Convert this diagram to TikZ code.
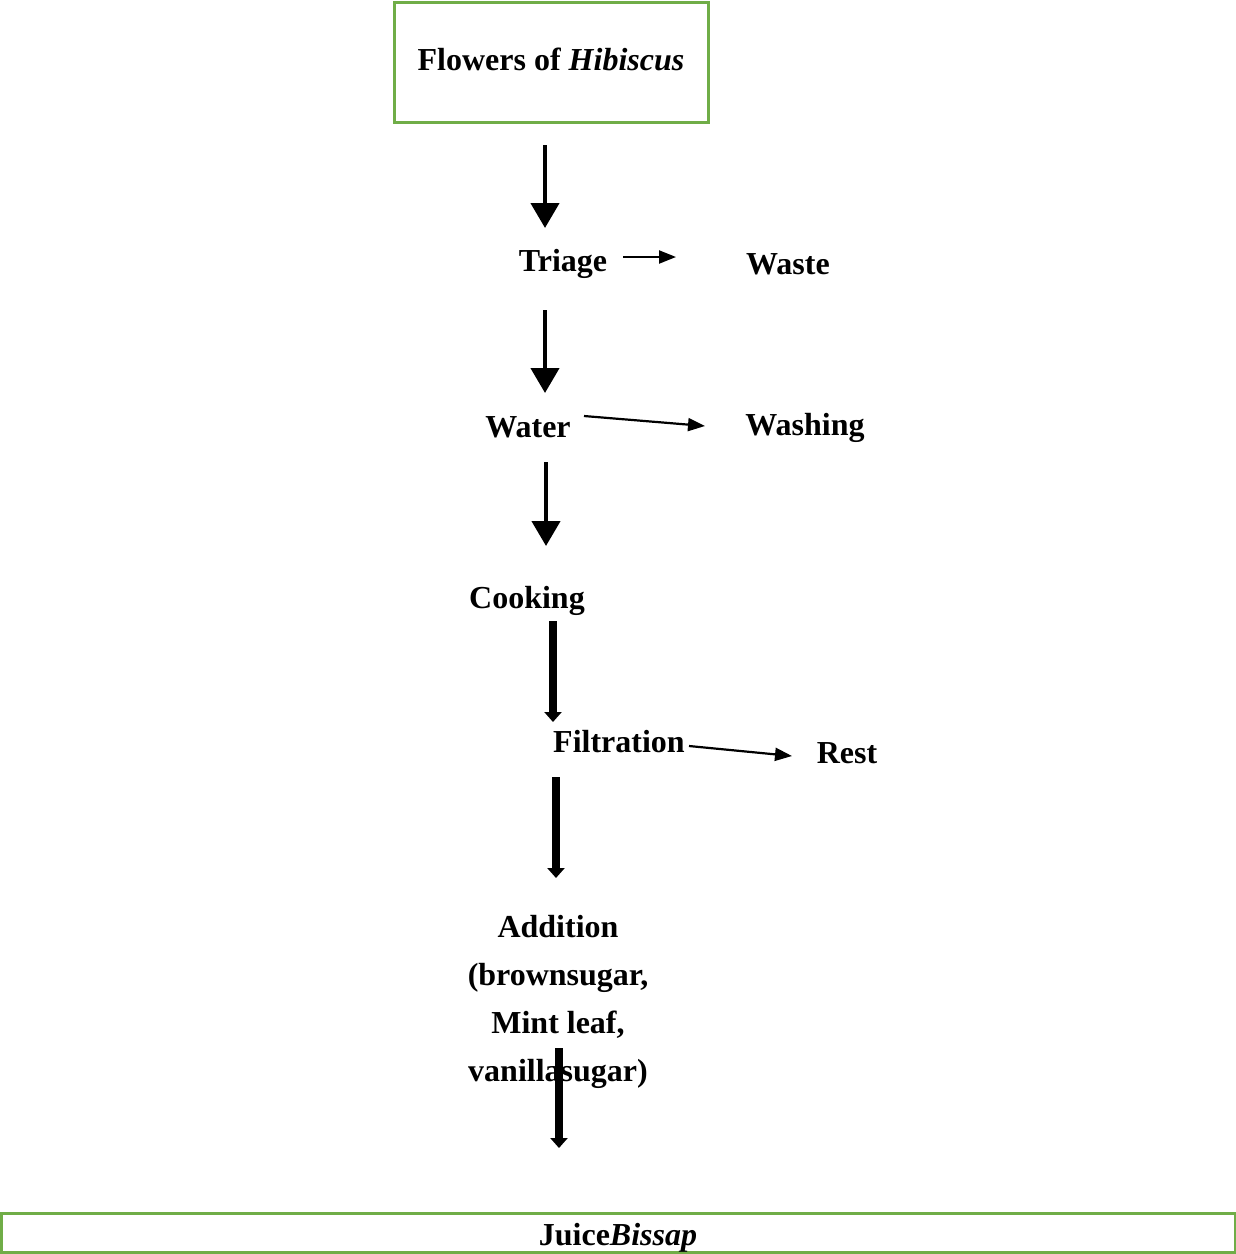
\documentclass[tikz,border=0pt]{standalone}
\usepackage{fontspec}
\setmainfont{Liberation Serif}
\usetikzlibrary{arrows.meta}
\definecolor{boxgreen}{RGB}{112,173,71}
\tikzset{
  lbl/.style={font=\bfseries\fontsize{16}{24}\selectfont, inner sep=0pt},
  greenbox/.style={draw=boxgreen, line width=1.5pt, inner sep=0pt},
  bigdown/.style={line width=2.2pt, -{Triangle[width=14pt,length=12.5pt]}},
  heavydown/.style={line width=3.6pt, -{Triangle[width=8.5pt,length=5pt]}},
  side/.style={line width=1.1pt, -{Triangle[width=6.5pt,length=8.5pt]}},
}
\begin{document}
\begin{tikzpicture}[x=0.5pt,y=-0.5pt]
    \useasboundingbox (0,0) rectangle (1236,1254);
    %% boxes
    \node[greenbox, lbl, minimum width=157pt, minimum height=60pt,
          text height=8pt, text depth=0pt] (flowers) at (551,62)
          {Flowers of \textit{Hibiscus}};
    \node[greenbox, lbl, minimum width=617pt, minimum height=19.5pt,
          text height=13pt, text depth=0.5pt] (juice) at (618,1232.5)
          {Juice\textit{Bissap}};
    %% steps
    \node[lbl, anchor=base] (triage) at (563,271) {Triage};
    \node[lbl, anchor=base] (waste) at (788,274) {Waste};
    \node[lbl, anchor=base] (water) at (528,437) {Water};
    \node[lbl, anchor=base] (washing) at (805,435) {Washing};
    \node[lbl, anchor=base] (cooking) at (527,608) {Cooking};
    \node[lbl, anchor=base] (filtration) at (619,752) {Filtration};
    \node[lbl, anchor=base] (rest) at (847,763) {Rest};
    \node[lbl, align=center] (addition) at (558,1002)
          {Addition\\(brownsugar,\\Mint leaf,\\vanillasugar)};
    %% arrow ends
    \coordinate (d1a) at (545,145);  \coordinate (d1b) at (545,228);
    \coordinate (d2a) at (545,310);  \coordinate (d2b) at (545,393);
    \coordinate (d3a) at (546,462);  \coordinate (d3b) at (546,546);
    \coordinate (d4a) at (553,621);  \coordinate (d4b) at (553,722);
    \coordinate (d5a) at (556,777);  \coordinate (d5b) at (556,878);
    \coordinate (d6a) at (559,1048); \coordinate (d6b) at (559,1148);
    \coordinate (s1a) at (623,257);  \coordinate (s1b) at (676,257);
    \coordinate (s2a) at (584,416);  \coordinate (s2b) at (705,426);
    \coordinate (s3a) at (689,746);  \coordinate (s3b) at (792,756);
    %% main line
    \draw[bigdown] (d1a) -- (d1b);
    \draw[bigdown] (d2a) -- (d2b);
    \draw[bigdown] (d3a) -- (d3b);
    \draw[heavydown] (d4a) -- (d4b);
    \draw[heavydown] (d5a) -- (d5b);
    \draw[heavydown] (d6a) -- (d6b);
    %% side outputs
    \draw[side] (s1a) -- (s1b);
    \draw[side] (s2a) -- (s2b);
    \draw[side] (s3a) -- (s3b);
\end{tikzpicture}
\end{document}
